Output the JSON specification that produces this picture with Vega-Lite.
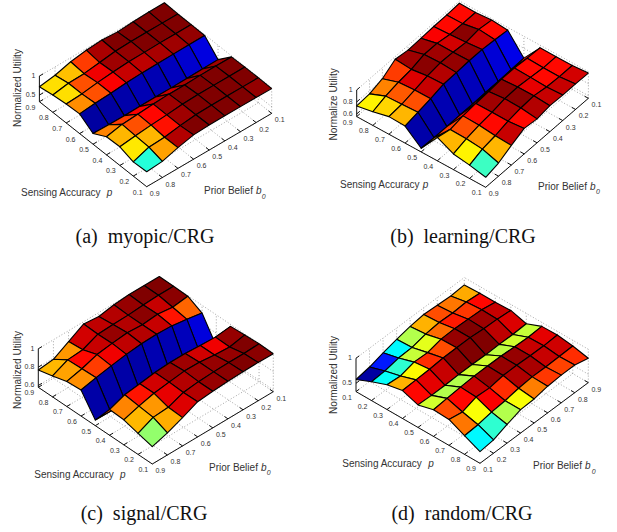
{"$schema":"https://vega.github.io/schema/vega-lite/v6.json","autosize":{"type":"fit","contains":"padding"},"width":617,"height":532,"padding":0,"background":"white","view":{"stroke":null},
"params":[{"name":"P","value":{
"a":{"x0":146.7,"y0":186.7,"xx":125,"xy":-73.3,"yx":-107.3,"yy":-85,"zmin":0.325,"zs":38,"umin":0.586,"umax":0.985,"flip":0,"sa":[21,192.7],"pp":[106.7,192.7],"pb":[204,190.7],"bb":[256,190.7],"b0":[261.7,196.7],"nu":[17.7,88],"cap":[145,237]},
"b":{"x0":485.7,"y0":187.3,"xx":102.7,"xy":-89,"yx":-129,"yy":-70.7,"zmin":0.556,"zs":60,"umin":0.595,"umax":1.01,"flip":0,"sa":[340,185],"pp":[422.7,185],"pb":[538,186.7],"bb":[590,186.7],"b0":[596,191.7],"nu":[334,104.3],"cap":[463,237]},
"c":{"x0":152.3,"y0":464,"xx":121,"xy":-72.3,"yx":-114,"yy":-76.7,"zmin":0.58,"zs":91.7,"umin":0.628,"umax":0.998,"flip":0,"sa":[34.3,475],"pp":[120,475],"pb":[209,467.7],"bb":[261,467.7],"b0":[266.7,473.3],"nu":[17.7,370],"cap":[144,514]},
"d":{"x0":480,"y0":463.3,"xx":108.3,"xy":-80.7,"yx":-124,"yy":-71.7,"zmin":0.333,"zs":50,"umin":0.567,"umax":0.941,"flip":1,"sa":[342.3,464],"pp":[428.3,464],"pb":[533,465.7],"bb":[585,465.7],"b0":[591.7,471.7],"nu":[334.3,375],"cap":[462,514]}}}],
"datasets":{
"grid":[{"X":0,"Y":0,"X2":0,"Y2":1,"Z":0,"Z2":0},{"X":0.125,"Y":0,"X2":0.125,"Y2":1,"Z":0,"Z2":0},{"X":0.25,"Y":0,"X2":0.25,"Y2":1,"Z":0,"Z2":0},{"X":0.375,"Y":0,"X2":0.375,"Y2":1,"Z":0,"Z2":0},{"X":0.5,"Y":0,"X2":0.5,"Y2":1,"Z":0,"Z2":0},{"X":0.625,"Y":0,"X2":0.625,"Y2":1,"Z":0,"Z2":0},{"X":0.75,"Y":0,"X2":0.75,"Y2":1,"Z":0,"Z2":0},{"X":0.875,"Y":0,"X2":0.875,"Y2":1,"Z":0,"Z2":0},{"X":1,"Y":0,"X2":1,"Y2":1,"Z":0,"Z2":0},
{"X":0,"Y":0,"X2":1,"Y2":0,"Z":0,"Z2":0},{"X":0,"Y":0.125,"X2":1,"Y2":0.125,"Z":0,"Z2":0},{"X":0,"Y":0.25,"X2":1,"Y2":0.25,"Z":0,"Z2":0},{"X":0,"Y":0.375,"X2":1,"Y2":0.375,"Z":0,"Z2":0},{"X":0,"Y":0.5,"X2":1,"Y2":0.5,"Z":0,"Z2":0},{"X":0,"Y":0.625,"X2":1,"Y2":0.625,"Z":0,"Z2":0},{"X":0,"Y":0.75,"X2":1,"Y2":0.75,"Z":0,"Z2":0},{"X":0,"Y":0.875,"X2":1,"Y2":0.875,"Z":0,"Z2":0},{"X":0,"Y":1,"X2":1,"Y2":1,"Z":0,"Z2":0},
{"X":1,"Y":0,"X2":1,"Y2":0,"Z":0,"Z2":1},{"X":1,"Y":0.125,"X2":1,"Y2":0.125,"Z":0,"Z2":1},{"X":1,"Y":0.25,"X2":1,"Y2":0.25,"Z":0,"Z2":1},{"X":1,"Y":0.375,"X2":1,"Y2":0.375,"Z":0,"Z2":1},{"X":1,"Y":0.5,"X2":1,"Y2":0.5,"Z":0,"Z2":1},{"X":1,"Y":0.625,"X2":1,"Y2":0.625,"Z":0,"Z2":1},{"X":1,"Y":0.75,"X2":1,"Y2":0.75,"Z":0,"Z2":1},{"X":1,"Y":0.875,"X2":1,"Y2":0.875,"Z":0,"Z2":1},{"X":1,"Y":1,"X2":1,"Y2":1,"Z":0,"Z2":1},
{"X":0.125,"Y":1,"X2":0.125,"Y2":1,"Z":0,"Z2":1},{"X":0.25,"Y":1,"X2":0.25,"Y2":1,"Z":0,"Z2":1},{"X":0.375,"Y":1,"X2":0.375,"Y2":1,"Z":0,"Z2":1},{"X":0.5,"Y":1,"X2":0.5,"Y2":1,"Z":0,"Z2":1},{"X":0.625,"Y":1,"X2":0.625,"Y2":1,"Z":0,"Z2":1},{"X":0.75,"Y":1,"X2":0.75,"Y2":1,"Z":0,"Z2":1},{"X":0.875,"Y":1,"X2":0.875,"Y2":1,"Z":0,"Z2":1}],
"axes":[{"X":0,"Y":0,"X2":1,"Y2":0,"Z":0,"Z2":0},{"X":0,"Y":0,"X2":0,"Y2":1,"Z":0,"Z2":0},{"X":0,"Y":1,"X2":0,"Y2":1,"Z":0,"Z2":1},
{"X":0.125,"Y":0,"X2":0.125,"Y2":0.03,"Z":0,"Z2":0},{"X":0.25,"Y":0,"X2":0.25,"Y2":0.03,"Z":0,"Z2":0},{"X":0.375,"Y":0,"X2":0.375,"Y2":0.03,"Z":0,"Z2":0},{"X":0.5,"Y":0,"X2":0.5,"Y2":0.03,"Z":0,"Z2":0},{"X":0.625,"Y":0,"X2":0.625,"Y2":0.03,"Z":0,"Z2":0},{"X":0.75,"Y":0,"X2":0.75,"Y2":0.03,"Z":0,"Z2":0},{"X":0.875,"Y":0,"X2":0.875,"Y2":0.03,"Z":0,"Z2":0},{"X":1,"Y":0,"X2":1,"Y2":0.03,"Z":0,"Z2":0},
{"X":0,"Y":0.125,"X2":0.03,"Y2":0.125,"Z":0,"Z2":0},{"X":0,"Y":0.25,"X2":0.03,"Y2":0.25,"Z":0,"Z2":0},{"X":0,"Y":0.375,"X2":0.03,"Y2":0.375,"Z":0,"Z2":0},{"X":0,"Y":0.5,"X2":0.03,"Y2":0.5,"Z":0,"Z2":0},{"X":0,"Y":0.625,"X2":0.03,"Y2":0.625,"Z":0,"Z2":0},{"X":0,"Y":0.75,"X2":0.03,"Y2":0.75,"Z":0,"Z2":0},{"X":0,"Y":0.875,"X2":0.03,"Y2":0.875,"Z":0,"Z2":0},{"X":0,"Y":1,"X2":0.03,"Y2":1,"Z":0,"Z2":0}],
"zl":[{"pn":"a","u":0.5,"s":"0.5"},{"pn":"a","u":1,"s":"1"},{"pn":"b","u":0.6,"s":"0.6"},{"pn":"b","u":0.8,"s":"0.8"},{"pn":"b","u":1,"s":"1"},{"pn":"c","u":0.6,"s":"0.6"},{"pn":"c","u":0.8,"s":"0.8"},{"pn":"c","u":1,"s":"1"},{"pn":"d","u":0.5,"s":"0.5"},{"pn":"d","u":1,"s":"1"}],
"ticks":[{"ax":"b","v":0.1},{"ax":"b","v":0.2},{"ax":"b","v":0.3},{"ax":"b","v":0.4},{"ax":"b","v":0.5},{"ax":"b","v":0.6},{"ax":"b","v":0.7},{"ax":"b","v":0.8},{"ax":"b","v":0.9},{"ax":"p","v":0.1},{"ax":"p","v":0.2},{"ax":"p","v":0.3},{"ax":"p","v":0.4},{"ax":"p","v":0.5},{"ax":"p","v":0.6},{"ax":"p","v":0.7},{"ax":"p","v":0.8},{"ax":"p","v":0.9}],
"labels":[
{"pn":"a","st":"n","k":"sa","s":"Sensing Accuracy"},{"pn":"a","st":"i","k":"pp","s":"p"},{"pn":"a","st":"n","k":"pb","s":"Prior Belief"},{"pn":"a","st":"i","k":"bb","s":"b"},{"pn":"a","st":"s","k":"b0","s":"0"},{"pn":"a","st":"r","k":"nu","s":"Normalized Utility"},{"pn":"a","st":"c","k":"cap","s":"(a)  myopic/CRG"},
{"pn":"b","st":"n","k":"sa","s":"Sensing Accuracy"},{"pn":"b","st":"i","k":"pp","s":"p"},{"pn":"b","st":"n","k":"pb","s":"Prior Belief"},{"pn":"b","st":"i","k":"bb","s":"b"},{"pn":"b","st":"s","k":"b0","s":"0"},{"pn":"b","st":"r","k":"nu","s":"Normalize Utility"},{"pn":"b","st":"c","k":"cap","s":"(b)  learning/CRG"},
{"pn":"c","st":"n","k":"sa","s":"Sensing Accuracy"},{"pn":"c","st":"i","k":"pp","s":"p"},{"pn":"c","st":"n","k":"pb","s":"Prior Belief"},{"pn":"c","st":"i","k":"bb","s":"b"},{"pn":"c","st":"s","k":"b0","s":"0"},{"pn":"c","st":"r","k":"nu","s":"Normalized Utility"},{"pn":"c","st":"c","k":"cap","s":"(c)  signal/CRG"},
{"pn":"d","st":"n","k":"sa","s":"Sensing Accuracy"},{"pn":"d","st":"i","k":"pp","s":"p"},{"pn":"d","st":"n","k":"pb","s":"Prior Belief"},{"pn":"d","st":"i","k":"bb","s":"b"},{"pn":"d","st":"s","k":"b0","s":"0"},{"pn":"d","st":"r","k":"nu","s":"Normalized Utility"},{"pn":"d","st":"c","k":"cap","s":"(d)  random/CRG"}],
"surf":[
{"pn":"a","p":0.9,"b":0.1,"u":1},{"pn":"a","p":0.9,"b":0.2,"u":1},{"pn":"a","p":0.9,"b":0.3,"u":0.983},{"pn":"a","p":0.9,"b":0.4,"u":0.957},{"pn":"a","p":0.9,"b":0.5,"u":0.983},{"pn":"a","p":0.9,"b":0.6,"u":0.957},{"pn":"a","p":0.9,"b":0.7,"u":0.895},{"pn":"a","p":0.9,"b":0.8,"u":0.78},{"pn":"a","p":0.9,"b":0.9,"u":0.72},
{"pn":"a","p":0.8,"b":0.1,"u":0.985},{"pn":"a","p":0.8,"b":0.2,"u":0.985},{"pn":"a","p":0.8,"b":0.3,"u":0.985},{"pn":"a","p":0.8,"b":0.4,"u":0.985},{"pn":"a","p":0.8,"b":0.5,"u":0.969},{"pn":"a","p":0.8,"b":0.6,"u":0.912},{"pn":"a","p":0.8,"b":0.7,"u":0.86},{"pn":"a","p":0.8,"b":0.8,"u":0.848},{"pn":"a","p":0.8,"b":0.9,"u":0.78},
{"pn":"a","p":0.7,"b":0.1,"u":0.985},{"pn":"a","p":0.7,"b":0.2,"u":0.985},{"pn":"a","p":0.7,"b":0.3,"u":0.985},{"pn":"a","p":0.7,"b":0.4,"u":0.977},{"pn":"a","p":0.7,"b":0.5,"u":0.973},{"pn":"a","p":0.7,"b":0.6,"u":0.941},{"pn":"a","p":0.7,"b":0.7,"u":0.904},{"pn":"a","p":0.7,"b":0.8,"u":0.848},{"pn":"a","p":0.7,"b":0.9,"u":0.825},
{"pn":"a","p":0.6,"b":0.1,"u":0.977},{"pn":"a","p":0.6,"b":0.2,"u":0.973},{"pn":"a","p":0.6,"b":0.3,"u":0.969},{"pn":"a","p":0.6,"b":0.4,"u":0.961},{"pn":"a","p":0.6,"b":0.5,"u":0.957},{"pn":"a","p":0.6,"b":0.6,"u":0.937},{"pn":"a","p":0.6,"b":0.7,"u":0.904},{"pn":"a","p":0.6,"b":0.8,"u":0.88},{"pn":"a","p":0.6,"b":0.9,"u":0.843},
{"pn":"a","p":0.5,"b":0.1,"u":0.622},{"pn":"a","p":0.5,"b":0.2,"u":0.614},{"pn":"a","p":0.5,"b":0.3,"u":0.606},{"pn":"a","p":0.5,"b":0.4,"u":0.602},{"pn":"a","p":0.5,"b":0.5,"u":0.602},{"pn":"a","p":0.5,"b":0.6,"u":0.598},{"pn":"a","p":0.5,"b":0.7,"u":0.594},{"pn":"a","p":0.5,"b":0.8,"u":0.594},{"pn":"a","p":0.5,"b":0.9,"u":0.606},
{"pn":"a","p":0.4,"b":0.1,"u":0.973},{"pn":"a","p":0.4,"b":0.2,"u":0.973},{"pn":"a","p":0.4,"b":0.3,"u":0.969},{"pn":"a","p":0.4,"b":0.4,"u":0.957},{"pn":"a","p":0.4,"b":0.5,"u":0.957},{"pn":"a","p":0.4,"b":0.6,"u":0.937},{"pn":"a","p":0.4,"b":0.7,"u":0.912},{"pn":"a","p":0.4,"b":0.8,"u":0.884},{"pn":"a","p":0.4,"b":0.9,"u":0.8},
{"pn":"a","p":0.3,"b":0.1,"u":0.985},{"pn":"a","p":0.3,"b":0.2,"u":0.985},{"pn":"a","p":0.3,"b":0.3,"u":0.985},{"pn":"a","p":0.3,"b":0.4,"u":0.985},{"pn":"a","p":0.3,"b":0.5,"u":0.973},{"pn":"a","p":0.3,"b":0.6,"u":0.933},{"pn":"a","p":0.3,"b":0.7,"u":0.904},{"pn":"a","p":0.3,"b":0.8,"u":0.864},{"pn":"a","p":0.3,"b":0.9,"u":0.816},
{"pn":"a","p":0.2,"b":0.1,"u":0.985},{"pn":"a","p":0.2,"b":0.2,"u":0.985},{"pn":"a","p":0.2,"b":0.3,"u":0.985},{"pn":"a","p":0.2,"b":0.4,"u":0.985},{"pn":"a","p":0.2,"b":0.5,"u":0.973},{"pn":"a","p":0.2,"b":0.6,"u":0.929},{"pn":"a","p":0.2,"b":0.7,"u":0.864},{"pn":"a","p":0.2,"b":0.8,"u":0.844},{"pn":"a","p":0.2,"b":0.9,"u":0.7},
{"pn":"a","p":0.1,"b":0.1,"u":0.977},{"pn":"a","p":0.1,"b":0.2,"u":0.985},{"pn":"a","p":0.1,"b":0.3,"u":0.985},{"pn":"a","p":0.1,"b":0.4,"u":0.985},{"pn":"a","p":0.1,"b":0.5,"u":0.985},{"pn":"a","p":0.1,"b":0.6,"u":0.965},{"pn":"a","p":0.1,"b":0.7,"u":0.872},{"pn":"a","p":0.1,"b":0.8,"u":0.75},{"pn":"a","p":0.1,"b":0.9,"u":0.72},
{"pn":"b","p":0.9,"b":0.1,"u":0.962},{"pn":"b","p":0.9,"b":0.2,"u":0.95},{"pn":"b","p":0.9,"b":0.3,"u":0.945},{"pn":"b","p":0.9,"b":0.4,"u":0.934},{"pn":"b","p":0.9,"b":0.5,"u":0.923},{"pn":"b","p":0.9,"b":0.6,"u":0.956},{"pn":"b","p":0.9,"b":0.7,"u":0.817},{"pn":"b","p":0.9,"b":0.8,"u":0.75},{"pn":"b","p":0.9,"b":0.9,"u":0.734},
{"pn":"b","p":0.8,"b":0.1,"u":0.955},{"pn":"b","p":0.8,"b":0.2,"u":0.955},{"pn":"b","p":0.8,"b":0.3,"u":0.96},{"pn":"b","p":0.8,"b":0.4,"u":0.997},{"pn":"b","p":0.8,"b":0.5,"u":0.997},{"pn":"b","p":0.8,"b":0.6,"u":0.934},{"pn":"b","p":0.8,"b":0.7,"u":0.905},{"pn":"b","p":0.8,"b":0.8,"u":0.859},{"pn":"b","p":0.8,"b":0.9,"u":0.784},
{"pn":"b","p":0.7,"b":0.1,"u":0.976},{"pn":"b","p":0.7,"b":0.2,"u":1.006},{"pn":"b","p":0.7,"b":0.3,"u":0.976},{"pn":"b","p":0.7,"b":0.4,"u":0.997},{"pn":"b","p":0.7,"b":0.5,"u":1.006},{"pn":"b","p":0.7,"b":0.6,"u":0.972},{"pn":"b","p":0.7,"b":0.7,"u":0.922},{"pn":"b","p":0.7,"b":0.8,"u":0.871},{"pn":"b","p":0.7,"b":0.9,"u":0.85},
{"pn":"b","p":0.6,"b":0.1,"u":0.955},{"pn":"b","p":0.6,"b":0.2,"u":0.981},{"pn":"b","p":0.6,"b":0.3,"u":1.002},{"pn":"b","p":0.6,"b":0.4,"u":1.002},{"pn":"b","p":0.6,"b":0.5,"u":0.989},{"pn":"b","p":0.6,"b":0.6,"u":0.981},{"pn":"b","p":0.6,"b":0.7,"u":0.926},{"pn":"b","p":0.6,"b":0.8,"u":0.884},{"pn":"b","p":0.6,"b":0.9,"u":0.84},
{"pn":"b","p":0.5,"b":0.1,"u":0.636},{"pn":"b","p":0.5,"b":0.2,"u":0.628},{"pn":"b","p":0.5,"b":0.3,"u":0.619},{"pn":"b","p":0.5,"b":0.4,"u":0.615},{"pn":"b","p":0.5,"b":0.5,"u":0.611},{"pn":"b","p":0.5,"b":0.6,"u":0.611},{"pn":"b","p":0.5,"b":0.7,"u":0.607},{"pn":"b","p":0.5,"b":0.8,"u":0.607},{"pn":"b","p":0.5,"b":0.9,"u":0.617},
{"pn":"b","p":0.4,"b":0.1,"u":0.955},{"pn":"b","p":0.4,"b":0.2,"u":0.968},{"pn":"b","p":0.4,"b":0.3,"u":0.989},{"pn":"b","p":0.4,"b":0.4,"u":0.989},{"pn":"b","p":0.4,"b":0.5,"u":0.968},{"pn":"b","p":0.4,"b":0.6,"u":0.955},{"pn":"b","p":0.4,"b":0.7,"u":0.934},{"pn":"b","p":0.4,"b":0.8,"u":0.892},{"pn":"b","p":0.4,"b":0.9,"u":0.945},
{"pn":"b","p":0.3,"b":0.1,"u":0.955},{"pn":"b","p":0.3,"b":0.2,"u":0.955},{"pn":"b","p":0.3,"b":0.3,"u":0.981},{"pn":"b","p":0.3,"b":0.4,"u":1.006},{"pn":"b","p":0.3,"b":0.5,"u":0.997},{"pn":"b","p":0.3,"b":0.6,"u":0.955},{"pn":"b","p":0.3,"b":0.7,"u":0.926},{"pn":"b","p":0.3,"b":0.8,"u":0.884},{"pn":"b","p":0.3,"b":0.9,"u":0.817},
{"pn":"b","p":0.2,"b":0.1,"u":0.955},{"pn":"b","p":0.2,"b":0.2,"u":0.955},{"pn":"b","p":0.2,"b":0.3,"u":0.968},{"pn":"b","p":0.2,"b":0.4,"u":1.006},{"pn":"b","p":0.2,"b":0.5,"u":0.989},{"pn":"b","p":0.2,"b":0.6,"u":0.955},{"pn":"b","p":0.2,"b":0.7,"u":0.897},{"pn":"b","p":0.2,"b":0.8,"u":0.859},{"pn":"b","p":0.2,"b":0.9,"u":0.778},
{"pn":"b","p":0.1,"b":0.1,"u":0.976},{"pn":"b","p":0.1,"b":0.2,"u":0.981},{"pn":"b","p":0.1,"b":0.3,"u":0.981},{"pn":"b","p":0.1,"b":0.4,"u":0.989},{"pn":"b","p":0.1,"b":0.5,"u":0.955},{"pn":"b","p":0.1,"b":0.6,"u":0.981},{"pn":"b","p":0.1,"b":0.7,"u":0.884},{"pn":"b","p":0.1,"b":0.8,"u":0.775},{"pn":"b","p":0.1,"b":0.9,"u":0.723},
{"pn":"c","p":0.9,"b":0.1,"u":1},{"pn":"c","p":0.9,"b":0.2,"u":1},{"pn":"c","p":0.9,"b":0.3,"u":1},{"pn":"c","p":0.9,"b":0.4,"u":0.987},{"pn":"c","p":0.9,"b":0.5,"u":0.958},{"pn":"c","p":0.9,"b":0.6,"u":0.975},{"pn":"c","p":0.9,"b":0.7,"u":0.882},{"pn":"c","p":0.9,"b":0.8,"u":0.787},{"pn":"c","p":0.9,"b":0.9,"u":0.769},
{"pn":"c","p":0.8,"b":0.1,"u":0.998},{"pn":"c","p":0.8,"b":0.2,"u":0.998},{"pn":"c","p":0.8,"b":0.3,"u":0.99},{"pn":"c","p":0.8,"b":0.4,"u":0.979},{"pn":"c","p":0.8,"b":0.5,"u":0.975},{"pn":"c","p":0.8,"b":0.6,"u":0.968},{"pn":"c","p":0.8,"b":0.7,"u":0.897},{"pn":"c","p":0.8,"b":0.8,"u":0.885},{"pn":"c","p":0.8,"b":0.9,"u":0.809},
{"pn":"c","p":0.7,"b":0.1,"u":0.994},{"pn":"c","p":0.7,"b":0.2,"u":0.972},{"pn":"c","p":0.7,"b":0.3,"u":0.994},{"pn":"c","p":0.7,"b":0.4,"u":0.979},{"pn":"c","p":0.7,"b":0.5,"u":0.99},{"pn":"c","p":0.7,"b":0.6,"u":0.972},{"pn":"c","p":0.7,"b":0.7,"u":0.949},{"pn":"c","p":0.7,"b":0.8,"u":0.893},{"pn":"c","p":0.7,"b":0.9,"u":0.853},
{"pn":"c","p":0.6,"b":0.1,"u":0.915},{"pn":"c","p":0.6,"b":0.2,"u":0.945},{"pn":"c","p":0.6,"b":0.3,"u":0.972},{"pn":"c","p":0.6,"b":0.4,"u":0.979},{"pn":"c","p":0.6,"b":0.5,"u":0.975},{"pn":"c","p":0.6,"b":0.6,"u":0.957},{"pn":"c","p":0.6,"b":0.7,"u":0.93},{"pn":"c","p":0.6,"b":0.8,"u":0.9},{"pn":"c","p":0.6,"b":0.9,"u":0.864},
{"pn":"c","p":0.5,"b":0.1,"u":0.66},{"pn":"c","p":0.5,"b":0.2,"u":0.646},{"pn":"c","p":0.5,"b":0.3,"u":0.642},{"pn":"c","p":0.5,"b":0.4,"u":0.642},{"pn":"c","p":0.5,"b":0.5,"u":0.638},{"pn":"c","p":0.5,"b":0.6,"u":0.638},{"pn":"c","p":0.5,"b":0.7,"u":0.638},{"pn":"c","p":0.5,"b":0.8,"u":0.638},{"pn":"c","p":0.5,"b":0.9,"u":0.642},
{"pn":"c","p":0.4,"b":0.1,"u":0.979},{"pn":"c","p":0.4,"b":0.2,"u":0.96},{"pn":"c","p":0.4,"b":0.3,"u":0.968},{"pn":"c","p":0.4,"b":0.4,"u":0.979},{"pn":"c","p":0.4,"b":0.5,"u":0.979},{"pn":"c","p":0.4,"b":0.6,"u":0.968},{"pn":"c","p":0.4,"b":0.7,"u":0.945},{"pn":"c","p":0.4,"b":0.8,"u":0.923},{"pn":"c","p":0.4,"b":0.9,"u":0.86},
{"pn":"c","p":0.3,"b":0.1,"u":0.99},{"pn":"c","p":0.3,"b":0.2,"u":0.957},{"pn":"c","p":0.3,"b":0.3,"u":0.968},{"pn":"c","p":0.3,"b":0.4,"u":0.987},{"pn":"c","p":0.3,"b":0.5,"u":0.99},{"pn":"c","p":0.3,"b":0.6,"u":0.968},{"pn":"c","p":0.3,"b":0.7,"u":0.945},{"pn":"c","p":0.3,"b":0.8,"u":0.904},{"pn":"c","p":0.3,"b":0.9,"u":0.853},
{"pn":"c","p":0.2,"b":0.1,"u":0.998},{"pn":"c","p":0.2,"b":0.2,"u":0.99},{"pn":"c","p":0.2,"b":0.3,"u":0.99},{"pn":"c","p":0.2,"b":0.4,"u":0.987},{"pn":"c","p":0.2,"b":0.5,"u":0.979},{"pn":"c","p":0.2,"b":0.6,"u":0.96},{"pn":"c","p":0.2,"b":0.7,"u":0.897},{"pn":"c","p":0.2,"b":0.8,"u":0.885},{"pn":"c","p":0.2,"b":0.9,"u":0.81},
{"pn":"c","p":0.1,"b":0.1,"u":0.994},{"pn":"c","p":0.1,"b":0.2,"u":0.998},{"pn":"c","p":0.1,"b":0.3,"u":0.994},{"pn":"c","p":0.1,"b":0.4,"u":0.99},{"pn":"c","p":0.1,"b":0.5,"u":0.979},{"pn":"c","p":0.1,"b":0.6,"u":0.964},{"pn":"c","p":0.1,"b":0.7,"u":0.889},{"pn":"c","p":0.1,"b":0.8,"u":0.82},{"pn":"c","p":0.1,"b":0.9,"u":0.769},
{"pn":"d","p":0.1,"b":0.9,"u":0.853},{"pn":"d","p":0.1,"b":0.8,"u":0.832},{"pn":"d","p":0.1,"b":0.7,"u":0.851},{"pn":"d","p":0.1,"b":0.6,"u":0.866},{"pn":"d","p":0.1,"b":0.5,"u":0.829},{"pn":"d","p":0.1,"b":0.4,"u":0.773},{"pn":"d","p":0.1,"b":0.3,"u":0.705},{"pn":"d","p":0.1,"b":0.2,"u":0.623},{"pn":"d","p":0.1,"b":0.1,"u":0.575},
{"pn":"d","p":0.2,"b":0.9,"u":0.866},{"pn":"d","p":0.2,"b":0.8,"u":0.892},{"pn":"d","p":0.2,"b":0.7,"u":0.874},{"pn":"d","p":0.2,"b":0.6,"u":0.885},{"pn":"d","p":0.2,"b":0.5,"u":0.855},{"pn":"d","p":0.2,"b":0.4,"u":0.791},{"pn":"d","p":0.2,"b":0.3,"u":0.78},{"pn":"d","p":0.2,"b":0.2,"u":0.724},{"pn":"d","p":0.2,"b":0.1,"u":0.709},
{"pn":"d","p":0.3,"b":0.9,"u":0.866},{"pn":"d","p":0.3,"b":0.8,"u":0.915},{"pn":"d","p":0.3,"b":0.7,"u":0.93},{"pn":"d","p":0.3,"b":0.6,"u":0.941},{"pn":"d","p":0.3,"b":0.5,"u":0.933},{"pn":"d","p":0.3,"b":0.4,"u":0.866},{"pn":"d","p":0.3,"b":0.3,"u":0.878},{"pn":"d","p":0.3,"b":0.2,"u":0.803},{"pn":"d","p":0.3,"b":0.1,"u":0.829},
{"pn":"d","p":0.4,"b":0.9,"u":0.88},{"pn":"d","p":0.4,"b":0.8,"u":0.907},{"pn":"d","p":0.4,"b":0.7,"u":0.918},{"pn":"d","p":0.4,"b":0.6,"u":0.941},{"pn":"d","p":0.4,"b":0.5,"u":0.941},{"pn":"d","p":0.4,"b":0.4,"u":0.938},{"pn":"d","p":0.4,"b":0.3,"u":0.915},{"pn":"d","p":0.4,"b":0.2,"u":0.904},{"pn":"d","p":0.4,"b":0.1,"u":0.892},
{"pn":"d","p":0.5,"b":0.9,"u":0.793},{"pn":"d","p":0.5,"b":0.8,"u":0.78},{"pn":"d","p":0.5,"b":0.7,"u":0.784},{"pn":"d","p":0.5,"b":0.6,"u":0.777},{"pn":"d","p":0.5,"b":0.5,"u":0.784},{"pn":"d","p":0.5,"b":0.4,"u":0.784},{"pn":"d","p":0.5,"b":0.3,"u":0.773},{"pn":"d","p":0.5,"b":0.2,"u":0.773},{"pn":"d","p":0.5,"b":0.1,"u":0.784},
{"pn":"d","p":0.6,"b":0.9,"u":0.92},{"pn":"d","p":0.6,"b":0.8,"u":0.904},{"pn":"d","p":0.6,"b":0.7,"u":0.915},{"pn":"d","p":0.6,"b":0.6,"u":0.933},{"pn":"d","p":0.6,"b":0.5,"u":0.933},{"pn":"d","p":0.6,"b":0.4,"u":0.933},{"pn":"d","p":0.6,"b":0.3,"u":0.915},{"pn":"d","p":0.6,"b":0.2,"u":0.892},{"pn":"d","p":0.6,"b":0.1,"u":0.866},
{"pn":"d","p":0.7,"b":0.9,"u":0.926},{"pn":"d","p":0.7,"b":0.8,"u":0.912},{"pn":"d","p":0.7,"b":0.7,"u":0.915},{"pn":"d","p":0.7,"b":0.6,"u":0.926},{"pn":"d","p":0.7,"b":0.5,"u":0.923},{"pn":"d","p":0.7,"b":0.4,"u":0.878},{"pn":"d","p":0.7,"b":0.3,"u":0.896},{"pn":"d","p":0.7,"b":0.2,"u":0.799},{"pn":"d","p":0.7,"b":0.1,"u":0.851},
{"pn":"d","p":0.8,"b":0.9,"u":0.886},{"pn":"d","p":0.8,"b":0.8,"u":0.878},{"pn":"d","p":0.8,"b":0.7,"u":0.87},{"pn":"d","p":0.8,"b":0.6,"u":0.874},{"pn":"d","p":0.8,"b":0.5,"u":0.848},{"pn":"d","p":0.8,"b":0.4,"u":0.799},{"pn":"d","p":0.8,"b":0.3,"u":0.773},{"pn":"d","p":0.8,"b":0.2,"u":0.724},{"pn":"d","p":0.8,"b":0.1,"u":0.705},
{"pn":"d","p":0.9,"b":0.9,"u":0.82},{"pn":"d","p":0.9,"b":0.8,"u":0.886},{"pn":"d","p":0.9,"b":0.7,"u":0.886},{"pn":"d","p":0.9,"b":0.6,"u":0.866},{"pn":"d","p":0.9,"b":0.5,"u":0.813},{"pn":"d","p":0.9,"b":0.4,"u":0.8},{"pn":"d","p":0.9,"b":0.3,"u":0.706},{"pn":"d","p":0.9,"b":0.2,"u":0.6},{"pn":"d","p":0.9,"b":0.1,"u":0.567}]},
"encoding":{"x":{"field":"sx","type":"quantitative","axis":null,"scale":{"domain":[0,617],"nice":false,"zero":false}},"y":{"field":"sy","type":"quantitative","axis":null,"scale":{"domain":[532,0],"nice":false,"zero":false}}},
"layer":[
{"data":{"name":"grid"},"transform":[{"calculate":"['a','b','c','d']","as":"pns"},{"flatten":["pns"],"as":["pn"]},{"calculate":"P[datum.pn]","as":"Q"},{"calculate":"(1-datum.Q.zmin)*datum.Q.zs","as":"H"},{"calculate":"datum.Q.x0+datum.X*datum.Q.xx+datum.Y*datum.Q.yx","as":"sx"},{"calculate":"datum.Q.y0+datum.X*datum.Q.xy+datum.Y*datum.Q.yy-datum.Z*datum.H","as":"sy"},{"calculate":"datum.Q.x0+datum.X2*datum.Q.xx+datum.Y2*datum.Q.yx","as":"sx2"},{"calculate":"datum.Q.y0+datum.X2*datum.Q.xy+datum.Y2*datum.Q.yy-datum.Z2*datum.H","as":"sy2"}],"mark":{"type":"rule","stroke":"#666666","strokeWidth":0.6,"strokeDash":[1,2]},"encoding":{"x2":{"field":"sx2"},"y2":{"field":"sy2"}}},
{"data":{"name":"zl"},"transform":[{"calculate":"[0,1]","as":"segs"},{"flatten":["segs"],"as":["seg"]},{"calculate":"P[datum.pn]","as":"Q"},{"calculate":"datum.seg?0:1","as":"X"},{"calculate":"datum.seg?1:0","as":"Y"},{"calculate":"(datum.u-datum.Q.zmin)*datum.Q.zs","as":"h"},{"calculate":"datum.Q.x0+datum.X*datum.Q.xx+datum.Y*datum.Q.yx","as":"sx"},{"calculate":"datum.Q.y0+datum.X*datum.Q.xy+datum.Y*datum.Q.yy-datum.h","as":"sy"},{"calculate":"datum.Q.x0+datum.Q.xx+datum.Q.yx","as":"sx2"},{"calculate":"datum.Q.y0+datum.Q.xy+datum.Q.yy-datum.h","as":"sy2"}],"mark":{"type":"rule","stroke":"#666666","strokeWidth":0.6,"strokeDash":[1,2]},"encoding":{"x2":{"field":"sx2"},"y2":{"field":"sy2"}}},
{"data":{"name":"axes"},"transform":[{"calculate":"['a','b','c','d']","as":"pns"},{"flatten":["pns"],"as":["pn"]},{"calculate":"P[datum.pn]","as":"Q"},{"calculate":"(1-datum.Q.zmin)*datum.Q.zs","as":"H"},{"calculate":"datum.Q.x0+datum.X*datum.Q.xx+datum.Y*datum.Q.yx","as":"sx"},{"calculate":"datum.Q.y0+datum.X*datum.Q.xy+datum.Y*datum.Q.yy-datum.Z*datum.H","as":"sy"},{"calculate":"datum.Q.x0+datum.X2*datum.Q.xx+datum.Y2*datum.Q.yx","as":"sx2"},{"calculate":"datum.Q.y0+datum.X2*datum.Q.xy+datum.Y2*datum.Q.yy-datum.Z2*datum.H","as":"sy2"}],"mark":{"type":"rule","stroke":"#111111","strokeWidth":1},"encoding":{"x2":{"field":"sx2"},"y2":{"field":"sy2"}}},
{"data":{"name":"zl"},"transform":[{"calculate":"P[datum.pn]","as":"Q"},{"calculate":"(datum.u-datum.Q.zmin)*datum.Q.zs","as":"h"},{"calculate":"datum.Q.x0+datum.Q.yx","as":"sx"},{"calculate":"datum.Q.y0+datum.Q.yy-datum.h","as":"sy"},{"calculate":"datum.Q.x0+0.03*datum.Q.xx+datum.Q.yx","as":"sx2"},{"calculate":"datum.Q.y0+0.03*datum.Q.xy+datum.Q.yy-datum.h","as":"sy2"}],"mark":{"type":"rule","stroke":"#111111","strokeWidth":1},"encoding":{"x2":{"field":"sx2"},"y2":{"field":"sy2"}}},
{"data":{"name":"surf"},"transform":[{"calculate":"[0,1,2,3,4]","as":"ks"},{"flatten":["ks"],"as":["k"]},{"calculate":"P[datum.pn]","as":"Q"},{"calculate":"round(datum.b*10)-((datum.k==1||datum.k==2)?1:0)","as":"cb"},{"calculate":"round(datum.p*10)-((datum.k==2||datum.k==3)?1:0)","as":"cp"},{"filter":"datum.cb>=1&&datum.cb<=8&&datum.cp>=1&&datum.cp<=8"},{"calculate":"datum.pn+'_'+datum.cb+'_'+datum.cp","as":"cell"},{"calculate":"datum.Q.flip?(datum.b-0.1)/0.8:(0.9-datum.b)/0.8","as":"X"},{"calculate":"datum.Q.flip?(0.9-datum.p)/0.8:(datum.p-0.1)/0.8","as":"Y"},{"calculate":"datum.Q.x0+datum.X*datum.Q.xx+datum.Y*datum.Q.yx","as":"sx"},{"calculate":"datum.Q.y0+datum.X*datum.Q.xy+datum.Y*datum.Q.yy-(datum.u-datum.Q.zmin)*datum.Q.zs","as":"sy"},{"calculate":"datum.k==0?(datum.u-datum.Q.umin)/(datum.Q.umax-datum.Q.umin):null","as":"t0"},{"joinaggregate":[{"op":"max","field":"t0","as":"t"}],"groupby":["cell"]}],"mark":{"type":"line","stroke":"#000000","strokeWidth":1.1,"strokeJoin":"round"},"encoding":{"detail":{"field":"cell"},"order":{"field":"k","type":"quantitative"},"fill":{"field":"t","type":"quantitative","legend":null,"scale":{"type":"linear","domain":[0,0.125,0.375,0.625,0.875,1],"range":["#00008f","#0000ff","#00ffff","#ffff00","#ff0000","#800000"],"clamp":true,"interpolate":"rgb"}}}},
{"data":{"name":"zl"},"transform":[{"calculate":"P[datum.pn]","as":"Q"},{"calculate":"datum.Q.x0+datum.Q.yx","as":"sx"},{"calculate":"datum.Q.y0+datum.Q.yy-(datum.u-datum.Q.zmin)*datum.Q.zs","as":"sy"}],"mark":{"type":"text","font":"Liberation Sans","fontSize":7,"fill":"#333333","align":"right","baseline":"middle","dx":-4},"encoding":{"text":{"field":"s"}}},
{"data":{"name":"ticks"},"transform":[{"filter":"datum.ax=='p'"},{"calculate":"['a','b','c','d']","as":"pns"},{"flatten":["pns"],"as":["pn"]},{"calculate":"P[datum.pn]","as":"Q"},{"calculate":"datum.Q.flip?(0.9-datum.v)/0.8:(datum.v-0.1)/0.8","as":"Y"},{"calculate":"datum.Q.x0+datum.Y*datum.Q.yx","as":"sx"},{"calculate":"datum.Q.y0+datum.Y*datum.Q.yy","as":"sy"}],"mark":{"type":"text","font":"Liberation Sans","fontSize":7,"fill":"#333333","align":"center","baseline":"middle","dx":-9,"dy":6},"encoding":{"text":{"field":"v","type":"quantitative","format":".1f"}}},
{"data":{"name":"ticks"},"transform":[{"filter":"datum.ax=='b'"},{"calculate":"['a','b','c','d']","as":"pns"},{"flatten":["pns"],"as":["pn"]},{"calculate":"P[datum.pn]","as":"Q"},{"calculate":"datum.Q.flip?(datum.v-0.1)/0.8:(0.9-datum.v)/0.8","as":"X"},{"calculate":"datum.Q.x0+datum.X*datum.Q.xx","as":"sx"},{"calculate":"datum.Q.y0+datum.X*datum.Q.xy","as":"sy"}],"mark":{"type":"text","font":"Liberation Sans","fontSize":7,"fill":"#333333","align":"center","baseline":"middle","dx":8,"dy":7},"encoding":{"text":{"field":"v","type":"quantitative","format":".1f"}}},
{"data":{"name":"labels"},"transform":[{"filter":"datum.st=='n'"},{"calculate":"P[datum.pn][datum.k][0]","as":"sx"},{"calculate":"P[datum.pn][datum.k][1]","as":"sy"}],"mark":{"type":"text","font":"Liberation Sans","fontSize":10,"fill":"#333333","align":"left","baseline":"middle"},"encoding":{"text":{"field":"s"}}},
{"data":{"name":"labels"},"transform":[{"filter":"datum.st=='i'"},{"calculate":"P[datum.pn][datum.k][0]","as":"sx"},{"calculate":"P[datum.pn][datum.k][1]","as":"sy"}],"mark":{"type":"text","font":"Liberation Sans","fontSize":10,"fontStyle":"italic","fill":"#333333","align":"left","baseline":"middle"},"encoding":{"text":{"field":"s"}}},
{"data":{"name":"labels"},"transform":[{"filter":"datum.st=='s'"},{"calculate":"P[datum.pn][datum.k][0]","as":"sx"},{"calculate":"P[datum.pn][datum.k][1]","as":"sy"}],"mark":{"type":"text","font":"Liberation Sans","fontSize":7,"fontStyle":"italic","fill":"#333333","align":"left","baseline":"middle"},"encoding":{"text":{"field":"s"}}},
{"data":{"name":"labels"},"transform":[{"filter":"datum.st=='r'"},{"calculate":"P[datum.pn][datum.k][0]","as":"sx"},{"calculate":"P[datum.pn][datum.k][1]","as":"sy"}],"mark":{"type":"text","font":"Liberation Sans","fontSize":10,"fill":"#333333","align":"center","baseline":"middle","angle":270},"encoding":{"text":{"field":"s"}}},
{"data":{"name":"labels"},"transform":[{"filter":"datum.st=='c'"},{"calculate":"replace(datum.s,'  ','\u00a0\u00a0')","as":"cs"},{"calculate":"P[datum.pn][datum.k][0]","as":"sx"},{"calculate":"P[datum.pn][datum.k][1]","as":"sy"}],"mark":{"type":"text","font":"Liberation Serif","fontSize":20,"fill":"#111111","align":"center","baseline":"middle"},"encoding":{"text":{"field":"cs"}}}
]}
